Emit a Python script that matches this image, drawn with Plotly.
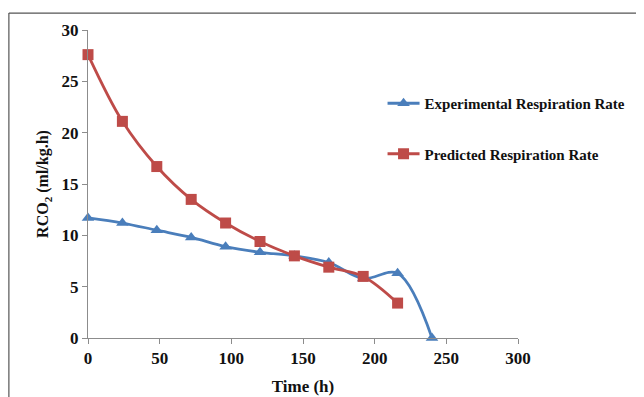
import plotly.graph_objects as go

time_exp = [0, 24, 48, 72, 96, 120, 144, 168, 192, 216, 240]
exp_rate = [11.7, 11.2, 10.5, 9.8, 8.9, 8.35, 8.0, 7.35, 5.8, 6.3, 0.0]
time_pred = [0, 24, 48, 72, 96, 120, 144, 168, 192, 216]
pred_rate = [27.6, 21.1, 16.7, 13.5, 11.2, 9.4, 8.0, 6.9, 6.0, 3.4]

x_ticks = [0, 50, 100, 150, 200, 250, 300]
y_ticks = [0, 5, 10, 15, 20, 25, 30]

font_family = "Liberation Serif"
blue = "#4a7ebb"
red = "#be4b48"

fig = go.Figure()
fig.add_trace(go.Scatter(
    x=time_exp, y=exp_rate, name="<b>Experimental Respiration Rate</b>",
    mode="lines+markers", line=dict(color=blue, width=2.8, shape="spline", smoothing=1.0),
    marker=dict(symbol="triangle-up", size=11, color=blue),
    legendgroup="a", cliponaxis=False,
))
fig.add_trace(go.Scatter(
    x=time_pred, y=pred_rate, name="<b>Predicted Respiration Rate</b>",
    mode="lines+markers", line=dict(color=red, width=2.8, shape="spline", smoothing=1.0),
    marker=dict(symbol="square", size=11, color=red),
    legendgroup="b", cliponaxis=False,
))

axis_common = dict(
    showline=True, linecolor="#8c8c8c", linewidth=1,
    ticks="outside", tickcolor="#8c8c8c", ticklen=5,
    showgrid=False, zeroline=False,
    tickfont=dict(family=font_family, size=17, color="#111"),
)

fig.update_layout(
    width=636, height=389,
    margin=dict(l=80, r=126, t=22, b=59, autoexpand=False),
    paper_bgcolor="white", plot_bgcolor="white",
    font=dict(family=font_family, color="#111"),
    xaxis=dict(range=[0, 300], tickvals=x_ticks, ticktext=[f"<b>{v}</b>" for v in x_ticks],
               title=dict(text="<b>Time (h)</b>", font=dict(size=17), standoff=12), **axis_common),
    yaxis=dict(range=[0, 30], tickvals=y_ticks, ticktext=[f"<b>{v}</b>" for v in y_ticks],
               title=dict(text="<b>RCO<sub>2</sub> (ml/kg.h)</b>", font=dict(size=16), standoff=8),
               **axis_common),
    legend=dict(x=0.685, y=0.815, xanchor="left", yanchor="top",
                font=dict(family=font_family, size=15, color="#111"),
                tracegroupgap=28, bgcolor="rgba(0,0,0,0)", itemwidth=32),
    showlegend=True,
    shapes=[
        dict(type="line", xref="paper", yref="paper", x0=-0.184, x1=1.3, y0=1.055, y1=1.055,
             line=dict(color="#555", width=1.2)),
        dict(type="line", xref="paper", yref="paper", x0=-0.184, x1=-0.184, y0=1.055, y1=-0.3,
             line=dict(color="#555", width=1.2)),
    ],
)

fig.write_html("out.html")
